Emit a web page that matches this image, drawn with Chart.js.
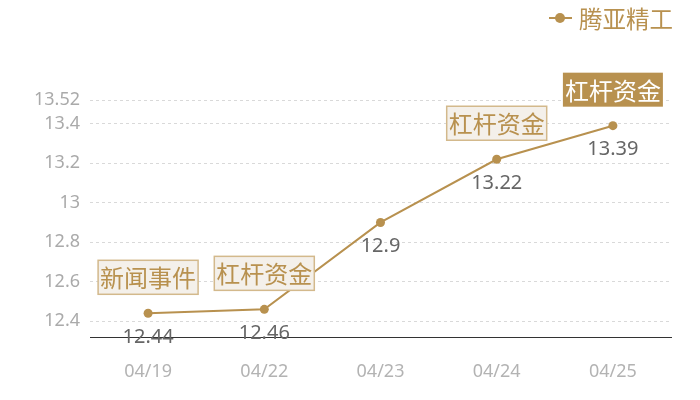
<!DOCTYPE html>
<html><head><meta charset="utf-8">
<script src="https://cdn.jsdelivr.net/npm/chart.js@4"></script>
<style>html,body{margin:0;padding:0;background:#fff}#wrap{width:700px;height:400px}</style>
</head><body><div id="wrap"><canvas id="c" width="700" height="400"></canvas></div>
<script>
const categories = ["04/19","04/22","04/23","04/24","04/25"];
const seriesName = "腾亚精工";
const values = [12.44, 12.46, 12.9, 13.22, 13.39];
const yTicks = [12.4, 12.6, 12.8, 13, 13.2, 13.4, 13.52];
const annotations = ["新闻事件","杠杆资金",null,"杠杆资金","杠杆资金"];
const annotationFilled = [false,false,false,false,true];

const GOLD = "#b8914f";
const FONT = "'Noto Sans','Noto Sans CJK SC',sans-serif";
const CJK = "'Noto Sans CJK SC','Noto Sans',sans-serif";

const overlay = {
  id: "overlay",
  afterDatasetsDraw(chart) {
    const ctx = chart.ctx;
    const meta = chart.getDatasetMeta(0);
    ctx.save();
    ctx.font = "20px " + FONT;
    ctx.fillStyle = "#666";
    ctx.textAlign = "center";
    ctx.textBaseline = "middle";
    meta.data.forEach((p, i) => {
      ctx.fillText(String(values[i]), p.x, p.y + 24);
    });
    meta.data.forEach((p, i) => {
      const t = annotations[i];
      if (!t) return;
      const w = 100, h = 34;
      const cx = p.x, cy = p.y - 36;
      ctx.fillStyle = annotationFilled[i] ? GOLD : "#f4f0ea";
      ctx.fillRect(cx - w/2, cy - h/2, w, h);
      if (!annotationFilled[i]) {
        ctx.strokeStyle = "#d3b98c";
        ctx.lineWidth = 1.5;
        ctx.strokeRect(cx - w/2, cy - h/2, w, h);
      }
      ctx.font = "24px " + CJK;
      ctx.fillStyle = annotationFilled[i] ? "#fff" : GOLD;
      ctx.fillText(t, cx, cy + 1);
    });
    const lx = 560, ly = 18;
    ctx.strokeStyle = GOLD; ctx.lineWidth = 2;
    ctx.beginPath(); ctx.moveTo(549, ly); ctx.lineTo(572, ly); ctx.stroke();
    ctx.fillStyle = GOLD;
    ctx.beginPath(); ctx.arc(lx, ly, 5, 0, Math.PI*2); ctx.fill();
    ctx.font = "23.5px " + CJK;
    ctx.textAlign = "left";
    ctx.fillText(chart.data.datasets[0].label, 579, ly + 1);
    ctx.restore();
  }
};

new Chart(document.getElementById("c"), {
  type: "line",
  data: {
    labels: categories,
    datasets: [{
      label: seriesName,
      data: values,
      borderColor: GOLD,
      backgroundColor: GOLD,
      borderWidth: 2,
      pointRadius: 4.5,
      pointHoverRadius: 4.5,
      pointBackgroundColor: GOLD,
      pointBorderWidth: 0,
      tension: 0
    }]
  },
  options: {
    responsive: false,
    animation: false,
    devicePixelRatio: 1,
    layout: { padding: { left: 0, right: 29, top: 100, bottom: 0 } },
    plugins: { legend: { display: false }, tooltip: { enabled: false } },
    scales: {
      x: {
        offset: true,
        grid: { display: false, drawTicks: false },
        border: { display: true, color: "#333", width: 1 },
        ticks: { color: "#b3b3b3", font: { size: 18, family: FONT }, padding: 24 },
        afterFit(s) { s.height = 63; }
      },
      y: {
        min: 12.32, max: 13.52,
        afterBuildTicks(s) { s.ticks = yTicks.map(v => ({ value: v })); },
        grid: { color: "#d9d9d9", drawTicks: false },
        border: { display: false, dash: [3, 3] },
        ticks: {
          color: "#aaaaaa", font: { size: 18, family: FONT }, padding: 10,
          callback: v => String(parseFloat(Number(v).toFixed(2)))
        },
        afterFit(s) { s.width = 90; }
      }
    }
  },
  plugins: [overlay]
});
</script></body></html>
